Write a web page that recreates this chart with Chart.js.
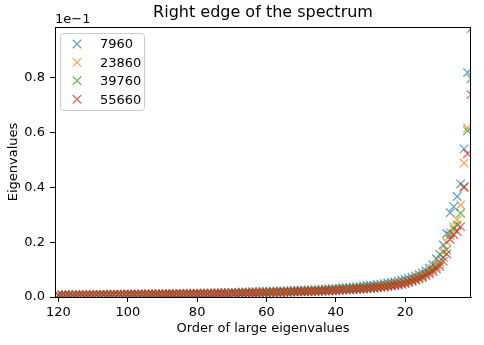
<!DOCTYPE html>
<html>
<head>
<meta charset="utf-8">
<script src="https://cdn.jsdelivr.net/npm/chart.js@4.4.0/dist/chart.umd.min.js"></script>
<style>
  html, body { margin: 0; padding: 0; background: #fff; }
  #wrap { width: 484px; height: 345px; }
</style>
</head>
<body>
<div id="wrap"><canvas id="chart" width="484" height="345"></canvas></div>
<script>
// series names (matrix sizes) and the 120 largest eigenvalues of each, in units of 1e-1
const seriesNames = ["7960", "23860", "39760", "55660"];

const eig7960 = [
  0.980, 0.820, 0.541, 0.413, 0.367, 0.330, 0.308, 0.232, 0.190, 0.155,
  0.140, 0.118, 0.105, 0.095, 0.088, 0.082, 0.077, 0.072, 0.068, 0.064,
  0.061, 0.058, 0.055, 0.053, 0.051, 0.049, 0.047, 0.045, 0.043, 0.042,
  0.041, 0.040, 0.038, 0.037, 0.036, 0.035, 0.034, 0.033, 0.032, 0.031,
  0.030, 0.029, 0.029, 0.028, 0.027, 0.027, 0.026, 0.026, 0.025, 0.025,
  0.024, 0.024, 0.023, 0.023, 0.022, 0.022, 0.021, 0.021, 0.021, 0.020,
  0.020, 0.019, 0.019, 0.019, 0.018, 0.018, 0.018, 0.017, 0.017, 0.017,
  0.016, 0.016, 0.016, 0.016, 0.015, 0.015, 0.015, 0.015, 0.014, 0.014,
  0.014, 0.014, 0.014, 0.013, 0.013, 0.013, 0.013, 0.013, 0.012, 0.012,
  0.012, 0.012, 0.012, 0.012, 0.011, 0.011, 0.011, 0.011, 0.011, 0.011,
  0.010, 0.010, 0.010, 0.010, 0.010, 0.010, 0.010, 0.009, 0.009, 0.009,
  0.009, 0.009, 0.009, 0.009, 0.009, 0.008, 0.008, 0.008, 0.008, 0.008
];
const eig23860 = [
  1.050, 0.617, 0.489, 0.336, 0.282, 0.257, 0.235, 0.200, 0.165, 0.130,
  0.118, 0.106, 0.096, 0.088, 0.080, 0.074, 0.068, 0.063, 0.059, 0.055,
  0.052, 0.049, 0.047, 0.045, 0.043, 0.041, 0.039, 0.038, 0.036, 0.035,
  0.034, 0.033, 0.032, 0.031, 0.030, 0.029, 0.028, 0.028, 0.027, 0.026,
  0.026, 0.025, 0.024, 0.024, 0.023, 0.023, 0.022, 0.022, 0.021, 0.021,
  0.020, 0.020, 0.020, 0.019, 0.019, 0.018, 0.018, 0.018, 0.017, 0.017,
  0.017, 0.016, 0.016, 0.016, 0.015, 0.015, 0.015, 0.015, 0.014, 0.014,
  0.014, 0.014, 0.013, 0.013, 0.013, 0.013, 0.013, 0.012, 0.012, 0.012,
  0.012, 0.012, 0.011, 0.011, 0.011, 0.011, 0.011, 0.011, 0.010, 0.010,
  0.010, 0.010, 0.010, 0.010, 0.010, 0.010, 0.009, 0.009, 0.009, 0.009,
  0.009, 0.009, 0.009, 0.009, 0.008, 0.008, 0.008, 0.008, 0.008, 0.008,
  0.008, 0.008, 0.008, 0.007, 0.007, 0.007, 0.007, 0.007, 0.007, 0.007
];
const eig39760 = [
  0.797, 0.607, 0.403, 0.306, 0.263, 0.248, 0.225, 0.172, 0.145, 0.122,
  0.110, 0.100, 0.091, 0.083, 0.076, 0.070, 0.065, 0.060, 0.056, 0.052,
  0.049, 0.047, 0.045, 0.043, 0.041, 0.039, 0.037, 0.036, 0.035, 0.034,
  0.033, 0.032, 0.031, 0.030, 0.029, 0.028, 0.027, 0.027, 0.026, 0.025,
  0.025, 0.024, 0.023, 0.023, 0.022, 0.022, 0.021, 0.021, 0.020, 0.020,
  0.020, 0.019, 0.019, 0.018, 0.018, 0.018, 0.017, 0.017, 0.017, 0.016,
  0.016, 0.016, 0.015, 0.015, 0.015, 0.015, 0.014, 0.014, 0.014, 0.014,
  0.013, 0.013, 0.013, 0.013, 0.012, 0.012, 0.012, 0.012, 0.012, 0.011,
  0.011, 0.011, 0.011, 0.011, 0.011, 0.010, 0.010, 0.010, 0.010, 0.010,
  0.010, 0.010, 0.009, 0.009, 0.009, 0.009, 0.009, 0.009, 0.009, 0.009,
  0.008, 0.008, 0.008, 0.008, 0.008, 0.008, 0.008, 0.008, 0.008, 0.007,
  0.007, 0.007, 0.007, 0.007, 0.007, 0.007, 0.007, 0.007, 0.007, 0.006
];
const eig55660 = [
  0.739, 0.523, 0.400, 0.257, 0.239, 0.228, 0.210, 0.157, 0.130, 0.112,
  0.102, 0.093, 0.085, 0.078, 0.071, 0.066, 0.061, 0.057, 0.053, 0.049,
  0.046, 0.044, 0.042, 0.040, 0.038, 0.036, 0.035, 0.034, 0.032, 0.031,
  0.030, 0.029, 0.028, 0.028, 0.027, 0.026, 0.025, 0.025, 0.024, 0.023,
  0.023, 0.022, 0.022, 0.021, 0.021, 0.020, 0.020, 0.019, 0.019, 0.019,
  0.018, 0.018, 0.017, 0.017, 0.017, 0.016, 0.016, 0.016, 0.015, 0.015,
  0.015, 0.015, 0.014, 0.014, 0.014, 0.014, 0.013, 0.013, 0.013, 0.013,
  0.012, 0.012, 0.012, 0.012, 0.012, 0.011, 0.011, 0.011, 0.011, 0.011,
  0.010, 0.010, 0.010, 0.010, 0.010, 0.010, 0.009, 0.009, 0.009, 0.009,
  0.009, 0.009, 0.009, 0.009, 0.009, 0.008, 0.008, 0.008, 0.008, 0.008,
  0.008, 0.008, 0.008, 0.008, 0.007, 0.007, 0.007, 0.007, 0.007, 0.007,
  0.007, 0.007, 0.007, 0.007, 0.006, 0.006, 0.006, 0.006, 0.006, 0.006
];

const xTicks = [20, 40, 60, 80, 100, 120];
const yTicks = [0.0, 0.2, 0.4, 0.6, 0.8];

const colors = [
  "rgba(31,119,180,0.7)",
  "rgba(255,127,14,0.7)",
  "rgba(44,160,44,0.7)",
  "rgba(214,39,40,0.7)"
];

const allSeries = [eig7960, eig23860, eig39760, eig55660];
const FONT = "'DejaVu Sans', 'Liberation Sans', sans-serif";
Chart.defaults.font.family = FONT;
Chart.defaults.color = "#000";

// rank order of each eigenvalue: 1 = largest
const datasets = allSeries.map((vals, i) => ({
  label: seriesNames[i],
  data: vals.map((v, k) => ({x: k + 1, y: v})),
  pointStyle: "crossRot",
  pointRadius: 6,
  pointBorderWidth: 1.3,
  borderColor: colors[i],
  backgroundColor: colors[i],
  showLine: false,
  clip: 0,
  order: allSeries.length - i, // later series drawn on top
}));

// title, offset text, frame and legend, drawn like matplotlib does
const decorations = {
  id: "decorations",
  afterDraw(chart) {
    const {ctx, chartArea: a} = chart;
    ctx.save();
    ctx.strokeStyle = "#000";
    ctx.lineWidth = 1;
    ctx.strokeRect(a.left + 0.5, a.top + 0.5, a.right - a.left - 1, a.bottom - a.top);

    ctx.fillStyle = "#000";
    ctx.font = "16px " + FONT;
    ctx.textAlign = "center";
    ctx.textBaseline = "middle";
    ctx.fillText("Right edge of the spectrum", (a.left + a.right) / 2, 13);

    ctx.font = "13px " + FONT;
    ctx.textAlign = "left";
    ctx.fillText("1e\u22121", a.left, 20);

    // legend box
    const bx = a.left + 5, by = a.top + 6, bw = 84, bh = 77;
    ctx.beginPath();
    ctx.roundRect(bx + 0.5, by + 0.5, bw, bh, 3);
    ctx.fillStyle = "rgba(255,255,255,0.8)";
    ctx.fill();
    ctx.strokeStyle = "#cccccc";
    ctx.lineWidth = 1;
    ctx.stroke();
    seriesNames.forEach((name, i) => {
      const cy = by + 11 + i * 18.4;
      ctx.strokeStyle = colors[i];
      ctx.fillStyle = colors[i];
      ctx.lineWidth = 1.3;
      Chart.helpers.drawPoint(ctx, {
        pointStyle: "crossRot", radius: 6, borderWidth: 1.3
      }, bx + 17, cy);
      ctx.fillStyle = "#000";
      ctx.font = "13px " + FONT;
      ctx.textAlign = "left";
      ctx.textBaseline = "middle";
      ctx.fillText(name, bx + 40, cy + 1);
    });
    ctx.restore();
  }
};

new Chart(document.getElementById("chart"), {
  type: "scatter",
  data: {datasets},
  options: {
    responsive: false,
    animation: false,
    layout: {padding: {top: 27, right: 13, left: 0, bottom: 0}},
    plugins: {
      legend: {display: false},
      tooltip: {enabled: false},
      title: {display: false}
    },
    scales: {
      x: {
        type: "linear",
        reverse: true,
        min: 1,
        max: 121,
        afterBuildTicks: (s) => { s.ticks = xTicks.map(v => ({value: v})); },
        afterFit: (s) => { s.height = 48; },
        ticks: {font: {size: 13}, padding: 3, maxRotation: 0, color: "#000"},
        grid: {drawOnChartArea: false, drawTicks: true, tickLength: 5, tickColor: "#000"},
        border: {display: true, color: "#000"},
        title: {display: true, text: "Order of large eigenvalues", font: {size: 13},
                padding: {top: 0, bottom: 9}, color: "#000"}
      },
      y: {
        type: "linear",
        min: 0,
        max: 0.986,
        afterBuildTicks: (s) => { s.ticks = yTicks.map(v => ({value: v})); },
        afterFit: (s) => { s.width = 55; },
        ticks: {font: {size: 13}, padding: 5, color: "#000",
                callback: (v) => Number(v).toFixed(1)},
        grid: {drawOnChartArea: false, drawTicks: true, tickLength: 5, tickColor: "#000"},
        border: {display: true, color: "#000"},
        title: {display: true, text: "Eigenvalues", font: {size: 13},
                padding: {top: 6, bottom: 0}, color: "#000"}
      }
    }
  },
  plugins: [decorations]
});
</script>
</body>
</html>
